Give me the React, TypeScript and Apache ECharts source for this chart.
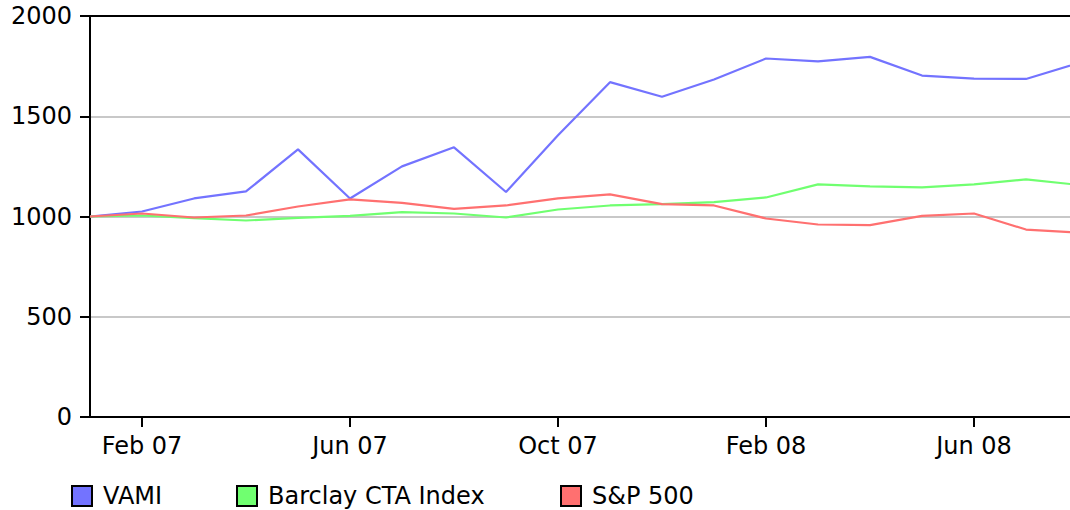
import React, { useEffect, useRef } from "react";
import * as echarts from "echarts";

const months = [
  "Jan 07", "Feb 07", "Mar 07", "Apr 07", "May 07", "Jun 07", "Jul 07", "Aug 07", "Sep 07", "Oct 07",
  "Nov 07", "Dec 07", "Jan 08", "Feb 08", "Mar 08", "Apr 08", "May 08", "Jun 08", "Jul 08", "Aug 08",
];
const vami = [1000, 1025, 1090, 1125, 1335, 1090, 1250, 1345, 1122, 1405, 1670, 1597, 1683, 1788, 1774, 1796, 1703, 1688, 1686, 1765];
const barclay = [1000, 1005, 992, 980, 993, 1003, 1022, 1015, 995, 1035, 1055, 1062, 1072, 1095, 1160, 1150, 1145, 1160, 1185, 1158];
const sp500 = [1000, 1015, 995, 1005, 1050, 1085, 1068, 1038, 1055, 1090, 1110, 1062, 1055, 990, 960, 957, 1003, 1015, 935, 920];
const seriesNames = ["VAMI", "Barclay CTA Index", "S&P 500"];
const yTicks = { min: 0, max: 2000, interval: 500 };

const FONT = "DejaVu Sans";

export default function App() {
  const ref = useRef<HTMLDivElement>(null);
  useEffect(() => {
    const chart = echarts.init(ref.current!, null, { renderer: "svg" });
    const mk = (name: string, data: number[], color: string) => ({
      name,
      type: "line",
      data,
      symbol: "none",
      smooth: false,
      itemStyle: { color },
      lineStyle: { color, width: 2.2 },
    });
    const legendLefts = [66, 231, 555];
    chart.setOption({
      animation: false,
      textStyle: { fontFamily: FONT },
      grid: {
        left: 90,
        top: 16,
        right: 0,
        bottom: 93,
        show: false,
      },
      legend: seriesNames.map((n, i) => ({
        left: legendLefts[i],
        top: 479,
        icon: "rect",
        itemWidth: 20,
        itemHeight: 20,
        itemStyle: { borderColor: "#000", borderWidth: 2 },
        textStyle: { fontFamily: FONT, fontSize: 24, lineHeight: 22, color: "#000", padding: [0, 0, 0, 6] },
        data: [n],
      })),
      xAxis: [
        {
          type: "category",
          data: months,
          boundaryGap: false,
          axisLine: { lineStyle: { color: "#000", width: 2 } },
          axisTick: {
            show: true,
            length: 10,
            interval: (i: number) => i % 4 === 1,
            lineStyle: { color: "#000", width: 2 },
          },
          axisLabel: {
            interval: (i: number) => i % 4 === 1,
            fontFamily: FONT,
            fontSize: 24,
            color: "#000",
            margin: 17,
          },
          splitLine: { show: false },
        },
        {
          type: "category",
          position: "top",
          data: months,
          boundaryGap: false,
          axisLine: { show: true, onZero: false, lineStyle: { color: "#000", width: 2 } },
          axisTick: { show: false },
          axisLabel: { show: false },
          splitLine: { show: false },
        },
      ],
      yAxis: {
        type: "value",
        min: yTicks.min,
        max: yTicks.max,
        interval: yTicks.interval,
        axisLine: { show: true, lineStyle: { color: "#000", width: 2 } },
        axisTick: { show: true, length: 10, lineStyle: { color: "#000", width: 2 } },
        axisLabel: {
          fontFamily: FONT,
          fontSize: 24,
          color: "#000",
          margin: 18,
          formatter: (v: number) => String(v),
        },
        splitLine: { show: true, lineStyle: { color: "#c8c8c8", width: 2 } },
      },
      series: [
        mk(seriesNames[0], vami, "#7373ff"),
        mk(seriesNames[1], barclay, "#70ff70"),
        mk(seriesNames[2], sp500, "#ff7070"),
      ],
    });
    return () => chart.dispose();
  }, []);
  return (
    <div style={{ position: "absolute", left: 0, top: 0, width: 1070, height: 510, overflow: "hidden", background: "#fff" }}>
      <div ref={ref} style={{ position: "absolute", left: 0, top: 0, width: 1078, height: 510 }} />
    </div>
  );
}
